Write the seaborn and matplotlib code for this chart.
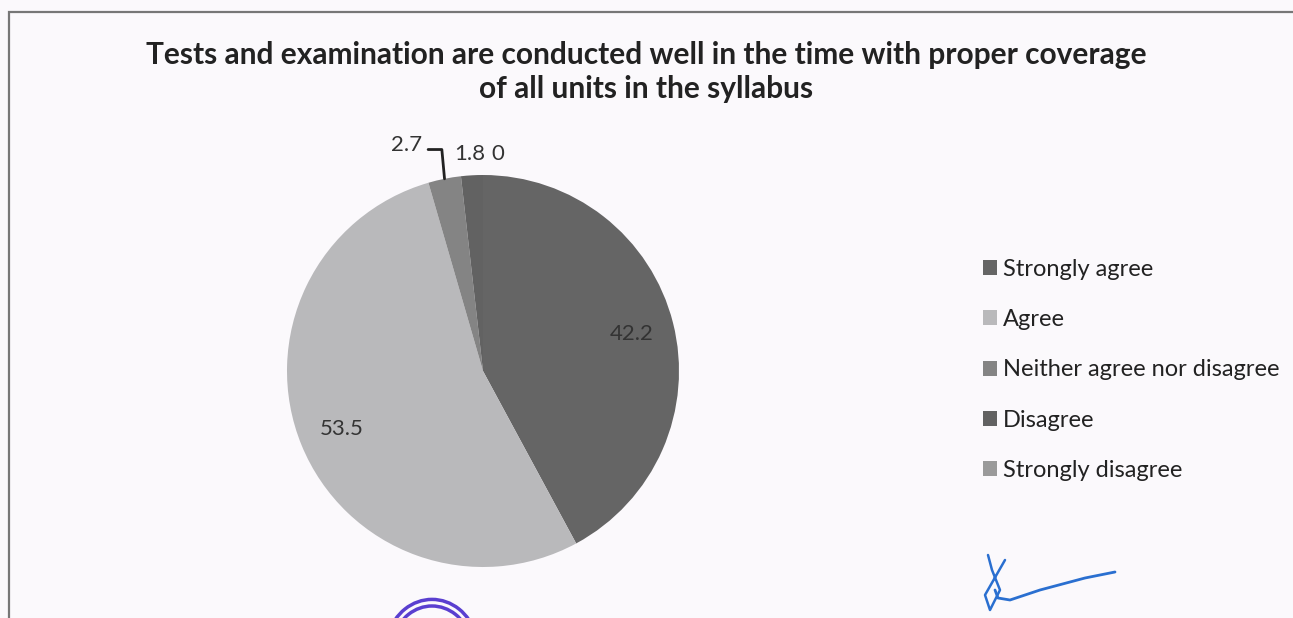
import numpy as np
import matplotlib
matplotlib.use("Agg")
import matplotlib.pyplot as plt
import seaborn as sns
from matplotlib.patches import Rectangle, Arc

sns.set_theme(style="white")
plt.rcParams['font.family'] = ['Lato', 'DejaVu Sans']

# data
categories = ["Strongly agree", "Agree", "Neither agree nor disagree",
              "Disagree", "Strongly disagree"]
values = [42.2, 53.5, 2.7, 1.8, 0]
value_labels = ["42.2", "53.5", "2.7", "1.8", "0"]
colors = ["#656565", "#b9b9bb", "#848484", "#626262", "#9a9a9a"]

title = ("Tests and examination are conducted well in the time with proper coverage\n"
         "of all units in the syllabus")

bg = "#fbf9fc"
fig = plt.figure(figsize=(12.93, 6.18), dpi=100, facecolor=bg)

# chart frame (runs past right/bottom of the scan)
fig.patches.append(Rectangle((9/1293, -0.1), 1.1, 1 - 12/618 + 0.1,
                             transform=fig.transFigure, fill=False,
                             edgecolor="#777777", lw=1.6))

fig.text(0.5, 1 - 72/618, title, ha="center", va="center", fontsize=21.5,
         fontweight="bold", color="#222222", linespacing=1.3)

# pie axes
cx, cy, r = 483, 371, 196
ax = fig.add_axes([(cx - r)/1293, (618 - cy - r)/618, 2*r/1293, 2*r/618])
ax.set_facecolor(bg)
wedges, _ = ax.pie(values, colors=colors, startangle=90, counterclock=False,
                   radius=1, wedgeprops=dict(linewidth=0))
ax.set_xlim(-1, 1)
ax.set_ylim(-1, 1)
ax.set_aspect("equal")
ax.axis("off")

# inside labels for the two big slices
for w, lab in zip(wedges[:2], value_labels[:2]):
    mid = np.deg2rad((w.theta1 + w.theta2) / 2)
    ax.text(0.78*np.cos(mid), 0.78*np.sin(mid), lab, ha="center", va="center",
            fontsize=16, color="#333333")

# outside labels for the small slices
w = wedges[2]
mid = np.deg2rad((w.theta1 + w.theta2) / 2)
ex, ey = np.cos(mid), np.sin(mid)
ax.text(-0.39, 1.155, value_labels[2], ha="center", va="center", fontsize=16,
        color="#333333", clip_on=False)
ax.plot([-0.28, -0.21, ex], [1.13, 1.13, ey], color="#222222", lw=2,
        clip_on=False)
ax.text(-0.07, 1.105, value_labels[3], ha="center", va="center", fontsize=16,
        color="#333333", clip_on=False)
ax.text(0.075, 1.105, value_labels[4], ha="center", va="center", fontsize=16,
        color="#333333", clip_on=False)

# legend
handles = [Rectangle((0, 0), 1, 1, facecolor=c, edgecolor="none") for c in colors]
leg = fig.legend(handles, categories, loc="center left",
                 bbox_to_anchor=(962/1293, 1 - 370/618), frameon=False,
                 fontsize=17, handlelength=0.6, handleheight=0.6,
                 handletextpad=0.25, labelspacing=1.24, labelcolor="#222222")

# stamp and signature from the scan
sx = fig.add_axes([0, 0, 1, 1], facecolor="none")
sx.set_xlim(0, 1293)
sx.set_ylim(618, 0)
sx.axis("off")
for rr in (40, 46):
    sx.add_patch(Arc((432, 650), 2*rr, 2*rr * 1.1, theta1=200, theta2=340,
                     color="#5a3fd0", lw=2.5))
sx.plot([1115, 1085, 1040, 1010, 998, 995], [572, 578, 590, 600, 598, 590],
        color="#2a6fd0", lw=2)
sx.plot([988, 992, 1000, 990, 985, 1005], [555, 570, 590, 610, 595, 560],
        color="#2a6fd0", lw=1.8)

fig.savefig("out.png", dpi=100, facecolor=bg)
